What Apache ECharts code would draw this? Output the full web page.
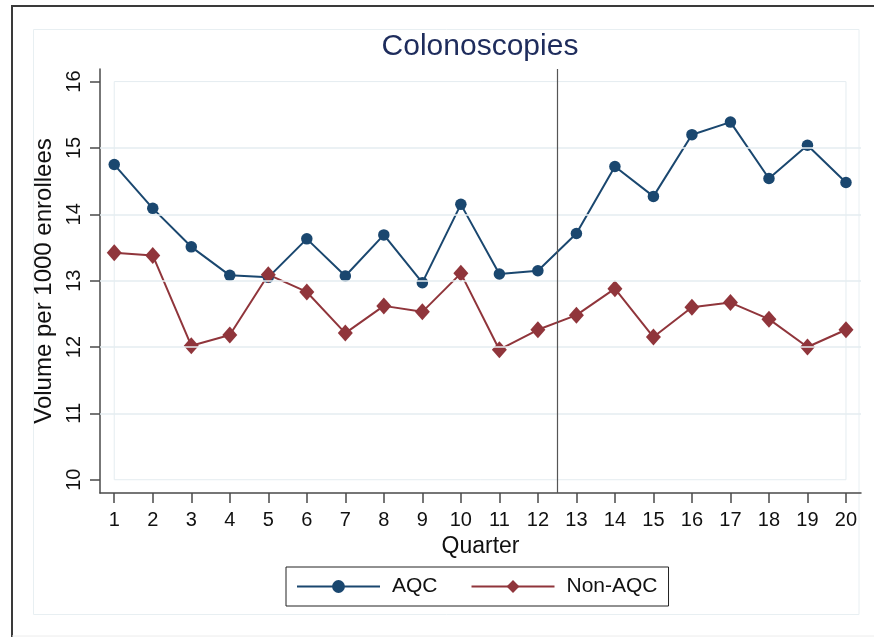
<!DOCTYPE html>
<html>
<head>
<meta charset="utf-8">
<script src="https://cdn.jsdelivr.net/npm/echarts@6/dist/echarts.min.js"></script>
<style>
html,body{margin:0;padding:0;background:#fff;}
#chart{width:874px;height:637px;}
</style>
</head>
<body>
<div id="chart"></div>
<script>
// ---- data ----
var quarters = [1,2,3,4,5,6,7,8,9,10,11,12,13,14,15,16,17,18,19,20];
var aqc = [14.75,14.09,13.51,13.08,13.05,13.63,13.07,13.69,12.97,14.15,13.10,13.15,13.71,14.72,14.27,15.20,15.39,14.54,15.04,14.48];
var nonAqc = [13.42,13.38,12.02,12.18,13.09,12.83,12.21,12.62,12.53,13.11,11.96,12.26,12.48,12.88,12.15,12.60,12.67,12.42,12.00,12.26];
var yTicks = [10,11,12,13,14,15,16];
var xTicks = quarters;
var policyLine = 12.5;

var FONT = "'Liberation Sans', Arial, sans-serif";
var NAVY = '#1a476f';
var MAROON = '#90353b';
var AXIS = '#4a4a4a';
var LIGHT = '#e4ecf0';

function pairs(xs, ys){ return xs.map(function(x,i){ return [x, ys[i]]; }); }

var chart = echarts.init(document.getElementById('chart'), null, {renderer:'canvas'});
chart.setOption({
  animation: false,
  backgroundColor: '#ffffff',
  textStyle: {fontFamily: FONT},
  graphic: [
    {type:'polyline', shape:{points:[[12,637],[12,6],[874,6]]}, style:{stroke:'#3a3a3a', lineWidth:2, fill:null}, silent:true, z:-10},
    {type:'line', shape:{x1:12,y1:636,x2:874,y2:636}, style:{stroke:'#ececec', lineWidth:1}, silent:true, z:-10},
    {type:'rect', shape:{x:33.5,y:29.5,width:825.5,height:585}, style:{stroke:'#e8eff2', lineWidth:1, fill:null}, silent:true, z:-10}
  ],
  title: {
    text: 'Colonoscopies',
    left: 480, top: 32, textAlign: 'center', padding: 0,
    textStyle: {fontFamily: FONT, fontSize: 30, fontWeight: 'normal', color: '#1e2c5c'}
  },
  legend: {
    data: ['AQC','Non-AQC'],
    left: 286, top: 567,
    orient: 'horizontal',
    padding: [9, 11, 9, 10],
    borderColor: '#222', borderWidth: 1,
    itemWidth: 83, itemHeight: 16, itemGap: 33,
    selectedMode: false,
    textStyle: {fontFamily: FONT, fontSize: 21, color: '#111', padding: [0,0,0,7]}
  },
  grid: {left: 100, right: 13, top: 69, bottom: 144, containLabel: false},
  xAxis: {
    type: 'value', min: 0.63, max: 20.39,
    name: 'Quarter', nameLocation: 'middle', nameGap: 38,
    nameTextStyle: {fontFamily: FONT, fontSize: 23, color: '#111'},
    axisLine: {show: true, onZero: false, lineStyle: {color: AXIS, width: 1.5}},
    axisTick: {show: true, length: 10, customValues: xTicks, lineStyle: {color: AXIS, width: 1.5}},
    axisLabel: {customValues: xTicks, margin: 17, fontFamily: FONT, fontSize: 20, color: '#111'},
    splitLine: {show: false}
  },
  yAxis: {
    type: 'value', min: 9.8, max: 16.19,
    name: 'Volume per 1000 enrollees', nameLocation: 'middle', nameGap: 40, nameRotate: 90,
    nameTextStyle: {fontFamily: FONT, fontSize: 24, color: '#111'},
    axisLine: {show: true, onZero: false, lineStyle: {color: AXIS, width: 1.5}},
    axisTick: {show: true, length: 10, customValues: yTicks, lineStyle: {color: AXIS, width: 1.5}},
    axisLabel: {customValues: yTicks, rotate: 90, margin: 16, fontFamily: FONT, fontSize: 20, color: '#111'},
    splitLine: {show: false}
  },
  series: [
    {
      name: 'frame', type: 'line', data: [], z: 1, silent: true,
      markArea: {
        silent: true,
        itemStyle: {color: 'rgba(0,0,0,0)', borderColor: LIGHT, borderWidth: 1},
        data: [[{xAxis: xTicks[0], yAxis: yTicks[0]}, {xAxis: xTicks[xTicks.length-1], yAxis: yTicks[yTicks.length-1]}]]
      },
      markLine: {
        silent: true, symbol: 'none', label: {show: false},
        lineStyle: {color: LIGHT, width: 1.5, type: 'solid'},
        data: yTicks.slice(1, -1).map(function(v){ return {yAxis: v}; })
      }
    },
    {
      name: 'AQC', type: 'line', data: pairs(quarters, aqc),
      symbol: 'circle', symbolSize: 11.5, z: 3,
      lineStyle: {color: NAVY, width: 2},
      itemStyle: {color: NAVY},
      markLine: {
        silent: true, symbol: 'none', label: {show: false},
        lineStyle: {color: '#555', width: 1.2, type: 'solid'},
        data: [{xAxis: policyLine}]
      }
    },
    {
      name: 'Non-AQC', type: 'line', data: pairs(quarters, nonAqc),
      symbol: 'diamond', symbolSize: [15, 17], z: 3,
      lineStyle: {color: MAROON, width: 2},
      itemStyle: {color: MAROON}
    }
  ]
});
</script>
</body>
</html>
